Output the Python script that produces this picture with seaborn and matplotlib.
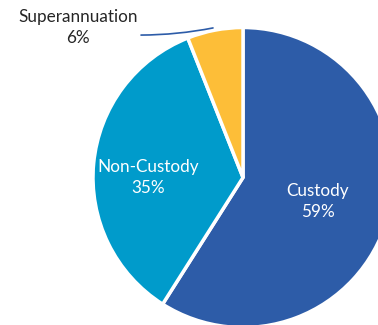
import matplotlib
matplotlib.use("Agg")
import matplotlib.pyplot as plt
import seaborn as sns

sns.set_theme(style="white")
plt.rcParams['font.family'] = ['Lato', 'DejaVu Sans']

categories = ["Custody", "Non-Custody", "Superannuation"]
values = [59, 35, 6]
colors = ["#2D5CA8", "#009BCB", "#FDBE38"]

fig = plt.figure(figsize=(3.78, 3.25), dpi=100)
W, H = 378, 325
r_px = 150
cx, cy = 243, 325 - 177.5
ax = fig.add_axes([(cx - r_px) / W, (cy - r_px) / H, 2 * r_px / W, 2 * r_px / H])

wedges, _ = ax.pie(values, colors=colors, startangle=90, counterclock=False,
                   wedgeprops=dict(edgecolor="white", linewidth=2.5))
ax.set_xlim(-1, 1)
ax.set_ylim(-1, 1)
ax.set_aspect("equal")
ax.axis("off")

fs = 12.3
ls = 1.45
ax.text(0.5, -0.16, f"{categories[0]}\n{values[0]}%", color="white", ha="center",
        va="center", fontsize=fs, linespacing=ls)
ax.text(-0.63, 0.0, f"{categories[1]}\n{values[1]}%", color="white", ha="center",
        va="center", fontsize=fs, linespacing=ls)
ax.annotate(f"{categories[2]}\n{values[2]}%", xy=(-0.2, 0.997), xytext=(-1.10, 1.0),
            textcoords="data", ha="center", va="center", fontsize=fs, color="#262626",
            linespacing=ls, annotation_clip=False,
            arrowprops=dict(arrowstyle="-", color="#2D5CA8", lw=1.2,
                            shrinkA=0, shrinkB=0,
                            relpos=(1.0, 0.3),
                            connectionstyle="arc3,rad=0.05"))

fig.savefig("out.png", dpi=100)
